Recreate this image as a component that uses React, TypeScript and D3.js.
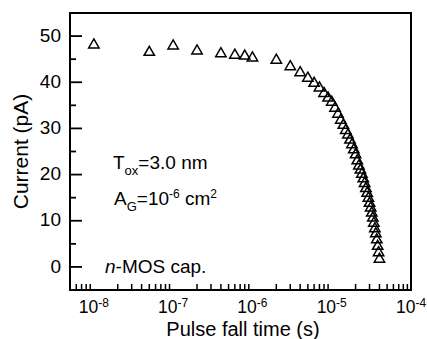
import React from "react";
import * as d3 from "d3";

const fallTimes: number[] = [
  1e-8, 5e-8, 1e-7, 2e-7, 4e-7, 6e-7, 8e-7, 1e-6, 2e-6, 3e-6, 4e-6, 5e-6, 6e-6, 7e-6, 8e-6, 9e-6,
  1.0e-5, 1.1e-5, 1.2e-5, 1.3e-5, 1.4e-5, 1.5e-5, 1.6e-5, 1.7e-5, 1.8e-5, 1.9e-5,
  2.0e-5, 2.1e-5, 2.2e-5, 2.3e-5, 2.4e-5, 2.5e-5, 2.6e-5, 2.7e-5, 2.8e-5, 2.9e-5,
  3.0e-5, 3.1e-5, 3.2e-5, 3.3e-5, 3.4e-5, 3.5e-5, 3.6e-5, 3.7e-5, 3.8e-5, 3.9e-5, 4.0e-5,
];
const currents: number[] = [
  48.4, 46.8, 48.2, 47.1, 46.5, 46.2, 46.0, 45.6, 45.1, 43.7, 42.4, 41.2, 40.1, 39.1, 37.9, 36.9,
  36.0, 34.7, 33.4, 32.1, 31.0, 29.9, 28.9, 27.8, 26.8, 25.7,
  24.6, 23.3, 22.2, 21.3, 20.4, 19.4, 18.4, 17.3, 16.3, 15.2,
  14.1, 13.1, 12.0, 10.9, 9.8, 8.6, 7.5, 6.2, 4.8, 3.4, 2.0,
];
const xDecades: number[] = [-8, -7, -6, -5, -4];
const yTicks: number[] = [0, 10, 20, 30, 40, 50];
const yMinorTicks: number[] = [5, 15, 25, 35, 45];

const W = 427;
const H = 339;
const L = 70, R = 411, T = 13, B = 290;
const FONT = "'Liberation Sans', Arial, Helvetica, sans-serif";

export default function App() {
  const x = d3.scaleLog().domain([5e-9, 1e-4]).range([L, R]);
  const y = d3.scaleLinear().domain([-5, 55]).range([B, T]);

  const minorX: number[] = [];
  for (let e = -9; e <= -5; e++) {
    for (let m = 2; m <= 9; m++) {
      const v = m * Math.pow(10, e);
      if (v >= 5e-9 && v < 1e-4) minorX.push(v);
    }
  }

  const tri = (cx: number, cy: number) => {
    const w = 5.2, h = 9;
    return `M${cx},${cy - h / 2} L${cx + w},${cy + h / 2} L${cx - w},${cy + h / 2} Z`;
  };

  return (
    <svg width={W} height={H} style={{ position: "absolute", left: 0, top: 0, background: "#fff" }} fontFamily={FONT}>
      <rect x={0} y={0} width={W} height={H} fill="#fff" />
      <rect x={L} y={T} width={R - L} height={B - T} fill="none" stroke="#000" strokeWidth={2} />
      {yTicks.map((v) => (
        <g key={"y" + v}>
          <line x1={L} x2={L + 12} y1={y(v)} y2={y(v)} stroke="#000" strokeWidth={1.8} />
          <text x={61} y={y(v)} dy="0.3em" textAnchor="end" fontSize={19}>{v}</text>
        </g>
      ))}
      {yMinorTicks.map((v) => (
        <line key={"ym" + v} x1={L} x2={L + 6} y1={y(v)} y2={y(v)} stroke="#000" strokeWidth={1.8} />
      ))}
      {xDecades.map((e) => {
        const v = Math.pow(10, e);
        const px = x(v);
        return (
          <g key={"x" + e}>
            {e > -4 && <line x1={px} x2={px} y1={B} y2={B - 12} stroke="#000" strokeWidth={1.8} />}
            <text x={px} y={313} textAnchor="middle" fontSize={17.5}>
              10<tspan dy={-6} fontSize={12}>{e}</tspan>
            </text>
          </g>
        );
      })}
      {minorX.map((v, i) => (
        <line key={"xm" + i} x1={x(v)} x2={x(v)} y1={B} y2={B - 6} stroke="#000" strokeWidth={1.5} />
      ))}
      <text x={243} y={335.5} textAnchor="middle" fontSize={20}>Pulse fall time (s)</text>
      <text transform={`translate(28,${(T + B) / 2}) rotate(-90)`} textAnchor="middle" fontSize={21}>Current (pA)</text>
      <text x={113} y={169} fontSize={19}>
        T<tspan dy={6} fontSize={13}>ox</tspan><tspan dy={-6}>=3.0 nm</tspan>
      </text>
      <text x={114} y={205} fontSize={19}>
        A<tspan dy={6} fontSize={13}>G</tspan><tspan dy={-6}>=10</tspan><tspan dy={-7} fontSize={12}>-6</tspan><tspan dy={7}> cm</tspan><tspan dy={-7} fontSize={12}>2</tspan>
      </text>
      <text x={105} y={273} fontSize={19}>
        <tspan fontStyle="italic">n</tspan>-MOS cap.
      </text>
      {fallTimes.map((t, i) => (
        <path key={"p" + i} d={tri(x(t), y(currents[i]))} fill="none" stroke="#000" strokeWidth={1.5} />
      ))}
    </svg>
  );
}
